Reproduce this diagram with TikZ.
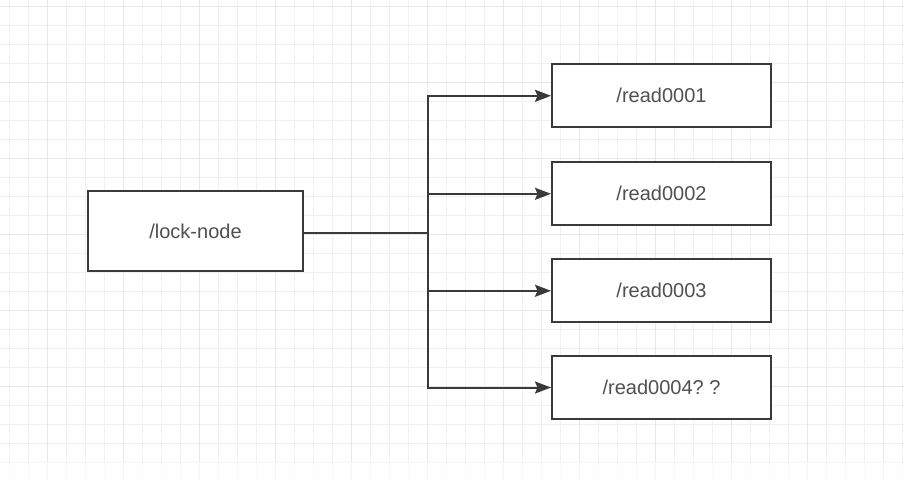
\documentclass[tikz,border=0pt]{standalone}
\usepackage{fontspec}
\setmainfont{Liberation Sans}
\usepackage{xcolor}
\usetikzlibrary{arrows.meta,positioning}

\definecolor{gridgray}{HTML}{F1F1F1}
\definecolor{gridmajor}{HTML}{E8E8E8}
\definecolor{linegray}{HTML}{3A3A3A}
\definecolor{textgray}{HTML}{505050}

\begin{document}
\begin{tikzpicture}[
  x=1pt, y=-1pt,
  minor/.style={gridgray, line width=1pt},
  major/.style={gridmajor, line width=1.2pt},
  box/.style={draw=linegray, line width=2pt, fill=white, text=textgray, font=\fontsize{20}{24}\selectfont},
  zbox/.style={box, minimum width=219pt, minimum height=63pt},
  arr/.style={draw=linegray, line width=2pt, -{Stealth[length=16pt, width=12pt, inset=2.5pt]}}
]
  \useasboundingbox (0,0) rectangle (904,480);
  \fill[white] (0,0) rectangle (904,480);

  % background grid
  \foreach \i in {0,...,47} {
    \draw[minor] ({9.3+19*\i},0) -- ({9.3+19*\i},480);
  }
  \foreach \i in {0,...,24} {
    \draw[minor] (0,{6.7+19*\i}) -- (904,{6.7+19*\i});
  }
  \foreach \i in {0,...,11} {
    \draw[major] ({47.3+76*\i},0) -- ({47.3+76*\i},480);
  }
  \foreach \i in {0,...,6} {
    \draw[major] (0,{6.7+76*\i}) -- (904,{6.7+76*\i});
  }
  \fill[white, opacity=0.6] (0,462) rectangle (904,480);

  % nodes
  \node[box, minimum width=215pt, minimum height=80pt] (lock) at (195.5,231) {/lock-node};

  \node[zbox] (read1) at (661.5,95.8) {/read0001};
  \node[zbox] (read2) at (661.5,193.8) {/read0002};
  \node[zbox] (read3) at (661.5,290.8) {/read0003};
  \node[zbox] (read4) at (661.5,387.5) {/read0004?\ ?};

  \coordinate (fork) at (427.5,232.7);

  % connectors
  \draw[draw=linegray, line width=2pt] (lock.east |- fork) -- (fork);
  \draw[arr] (fork) |- (read1.west);
  \draw[arr] (fork) |- (read2.west);
  \draw[arr] (fork) |- (read3.west);
  \draw[arr] (fork) |- (read4.west);
\end{tikzpicture}
\end{document}
